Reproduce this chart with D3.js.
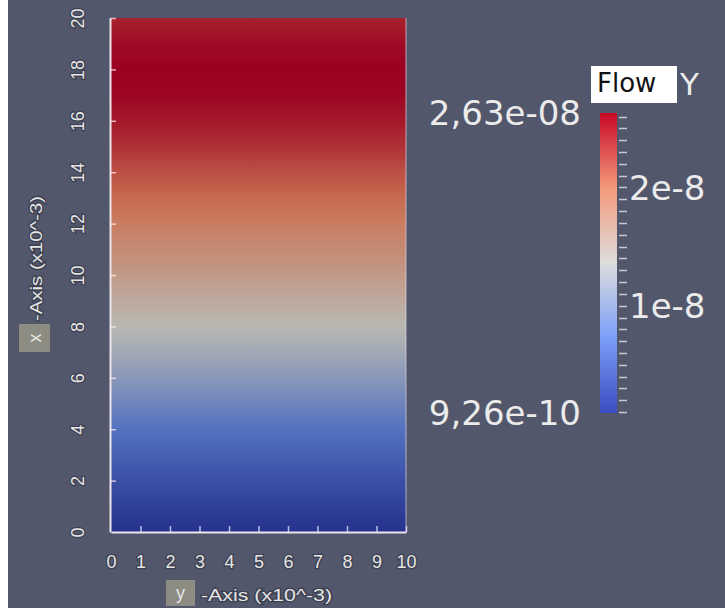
<!DOCTYPE html>
<meta charset="utf-8">
<script src="https://d3js.org/d3.v7.min.js"></script>
<style>
  body { margin: 0; background: #fff; }
  text { font-family: "DejaVu Sans", "Liberation Sans", sans-serif; }
</style>
<div id="chart"></div>
<script>

// Flow Y sampled along the x-axis (x10^-3)
const xPos  = [0, 1, 2, 3, 4, 5, 6, 7, 8, 9, 10, 11, 12, 13, 14, 15, 16, 17, 18, 19, 20];
const flowY = [0.93e-9, 2.3e-9, 3.9e-9, 5.6e-9, 7.3e-9, 9.0e-9, 1.06e-8, 1.22e-8, 1.37e-8, 1.51e-8,
               1.65e-8, 1.78e-8, 1.91e-8, 2.05e-8, 2.2e-8, 2.36e-8, 2.5e-8, 2.6e-8, 2.63e-8, 2.57e-8, 2.45e-8];

// axis ticks
const xAxisTicks = [0, 2, 4, 6, 8, 10, 12, 14, 16, 18, 20];   // vertical axis ("x")
const yAxisTicks = [0, 1, 2, 3, 4, 5, 6, 7, 8, 9, 10];        // horizontal axis ("y")

// colour bar
const rangeMin = 9.26e-10, rangeMax = 2.63e-8;
const rangeLabels = ["9,26e-10", "2,63e-08"];
const cbTickValues = [1e-8, 2e-8];
const cbTickLabels = ["1e-8", "2e-8"];

const W = 725, H = 611;
const svg = d3.select("#chart").append("svg")
    .attr("width", W).attr("height", H);

// background (white strip on the left / bottom like the screenshot)
svg.append("rect").attr("x", 8).attr("y", 0).attr("width", W - 8).attr("height", 608)
    .attr("fill", "#52576c");

const defs = svg.append("defs");

// scales
const yS = d3.scaleLinear().domain([0, 10]).range([111, 406]);  // horizontal
const xS = d3.scaleLinear().domain([0, 20]).range([532, 18]);   // vertical
const cb = d3.scaleLinear().domain([rangeMin, rangeMax]).range([413, 113]);

const t = v => (v - rangeMin) / (rangeMax - rangeMin);
const fracs = [0, 0.25, 0.5, 0.75, 1];
const dom = fracs.map(f => rangeMin + f * (rangeMax - rangeMin));

// cool to warm, as lit in the render view
const shaded = d3.scaleLinear().domain(dom)
    .range(["#26328e", "#5372bf", "#b9b9b3", "#cb7454", "#9b0021"])
    .interpolate(d3.interpolateRgb).clamp(true);
// cool to warm, colour legend
const legend = d3.scaleLinear().domain(dom)
    .range(["#3b4cc0", "#7b9ff9", "#dddddd", "#f49a7b", "#c80826"])
    .interpolate(d3.interpolateRgb);

// plot gradient
const g1 = defs.append("linearGradient").attr("id", "field")
    .attr("gradientUnits", "userSpaceOnUse")
    .attr("x1", 0).attr("x2", 0).attr("y1", xS(0)).attr("y2", xS(20));
g1.selectAll("stop").data(xPos).join("stop")
    .attr("offset", d => d / 20)
    .attr("stop-color", (d, i) => shaded(flowY[i]));

svg.append("rect")
    .attr("x", yS(0)).attr("y", xS(20))
    .attr("width", yS(10) - yS(0)).attr("height", xS(0) - xS(20))
    .attr("fill", "url(#field)");

// faint right edge
svg.append("line").attr("x1", yS(10)).attr("x2", yS(10)).attr("y1", xS(20)).attr("y2", xS(0))
    .attr("stroke", "rgba(230,220,230,0.45)").attr("stroke-width", 1.5);

// axes
const axisColor = "#ece6ec";
const labelStyle = sel => sel
    .attr("fill", "#e6e6e6")
    .attr("stroke", "#3c4050").attr("stroke-width", 2.5).attr("paint-order", "stroke")
    .style("font-family", "'Liberation Sans', Arial, sans-serif")
    .style("font-size", "18px");

const left = svg.append("g").attr("transform", `translate(${yS(0) - 1},0)`)
    .call(d3.axisLeft(xS).tickValues(xAxisTicks).tickSize(-6).tickSizeOuter(0));
left.select(".domain").attr("stroke", axisColor).attr("stroke-width", 2);
left.selectAll(".tick line").attr("stroke", "rgba(255,235,240,0.75)").attr("stroke-width", 1.5);
left.selectAll(".tick text")
    .attr("x", 0).attr("dy", "0.35em")
    .attr("text-anchor", "middle")
    .attr("transform", "translate(-32,0) rotate(-90)")
    .call(labelStyle);

const bottom = svg.append("g").attr("transform", `translate(0,${xS(0)})`)
    .call(d3.axisBottom(yS).tickValues(yAxisTicks).tickSize(-6).tickSizeOuter(0));
bottom.select(".domain").attr("stroke", axisColor).attr("stroke-width", 2);
bottom.selectAll(".tick line").attr("stroke", "rgba(235,235,255,0.75)").attr("stroke-width", 1.5);
bottom.selectAll(".tick text")
    .attr("y", 30).attr("dy", "0.35em")
    .call(labelStyle);
svg.selectAll(".tick").filter(d => d === 0).select("line").remove();

// axis titles
const boxFill = "#8c8c82";
svg.append("rect").attr("x", 166).attr("y", 580).attr("width", 29).attr("height", 26).attr("fill", boxFill);
svg.append("text").attr("x", 180.5).attr("y", 593).attr("dy", "0.35em")
    .attr("text-anchor", "middle").text("y").call(labelStyle).attr("stroke-width", 0);
svg.append("text").attr("x", 201).attr("y", 595).attr("dy", "0.35em")
    .attr("textLength", 131).attr("lengthAdjust", "spacingAndGlyphs")
    .text("-Axis (x10^-3)").call(labelStyle).style("font-size", "17px");

svg.append("rect").attr("x", 19).attr("y", 324).attr("width", 31).attr("height", 28).attr("fill", boxFill);
svg.append("text").attr("transform", "translate(34.5,338) rotate(-90)").attr("dy", "0.35em")
    .attr("text-anchor", "middle").text("x").call(labelStyle).attr("stroke-width", 0);
svg.append("text").attr("transform", "translate(36,321) rotate(-90)").attr("dy", "0.35em")
    .attr("textLength", 125).attr("lengthAdjust", "spacingAndGlyphs")
    .text("-Axis (x10^-3)").call(labelStyle).style("font-size", "17px");

// colour bar
const g2 = defs.append("linearGradient").attr("id", "bar")
    .attr("gradientUnits", "userSpaceOnUse")
    .attr("x1", 0).attr("x2", 0).attr("y1", cb(rangeMin)).attr("y2", cb(rangeMax));
g2.selectAll("stop").data(dom).join("stop")
    .attr("offset", d => t(d))
    .attr("stop-color", d => legend(d));

svg.append("rect").attr("x", 600).attr("y", cb(rangeMax))
    .attr("width", 17).attr("height", cb(rangeMin) - cb(rangeMax))
    .attr("fill", "url(#bar)");

const minor = d3.range(1e-9, rangeMax, 1e-9);
svg.append("g").selectAll("line").data(minor).join("line")
    .attr("x1", 619).attr("x2", 627)
    .attr("y1", d => Math.round(cb(d)) + 0.5).attr("y2", d => Math.round(cb(d)) + 0.5)
    .attr("stroke", "#c9c9cf").attr("stroke-width", 1.5);

const bigText = sel => sel.attr("fill", "#ebebeb")
    .style("font-family", "'DejaVu Sans', sans-serif").style("font-size", "34px");

svg.append("g").selectAll("text").data(cbTickValues).join("text")
    .attr("x", 629).attr("y", d => cb(d)).attr("dy", "0.36em")
    .text((d, i) => cbTickLabels[i]).call(bigText);

svg.append("g").selectAll("text").data([rangeMin, rangeMax]).join("text")
    .attr("x", 581).attr("y", d => cb(d)).attr("dy", "0.36em")
    .attr("text-anchor", "end")
    .text((d, i) => rangeLabels[i]).call(bigText);

// title
svg.append("rect").attr("x", 591).attr("y", 66).attr("width", 86).attr("height", 37).attr("fill", "#ffffff");
svg.append("text").attr("x", 597).attr("y", 92).text("Flow")
    .attr("fill", "#111").style("font-family", "'DejaVu Sans', sans-serif").style("font-size", "26px");
svg.append("text").attr("x", 680).attr("y", 95).text("Y").call(bigText).style("font-size", "31px");

</script>
